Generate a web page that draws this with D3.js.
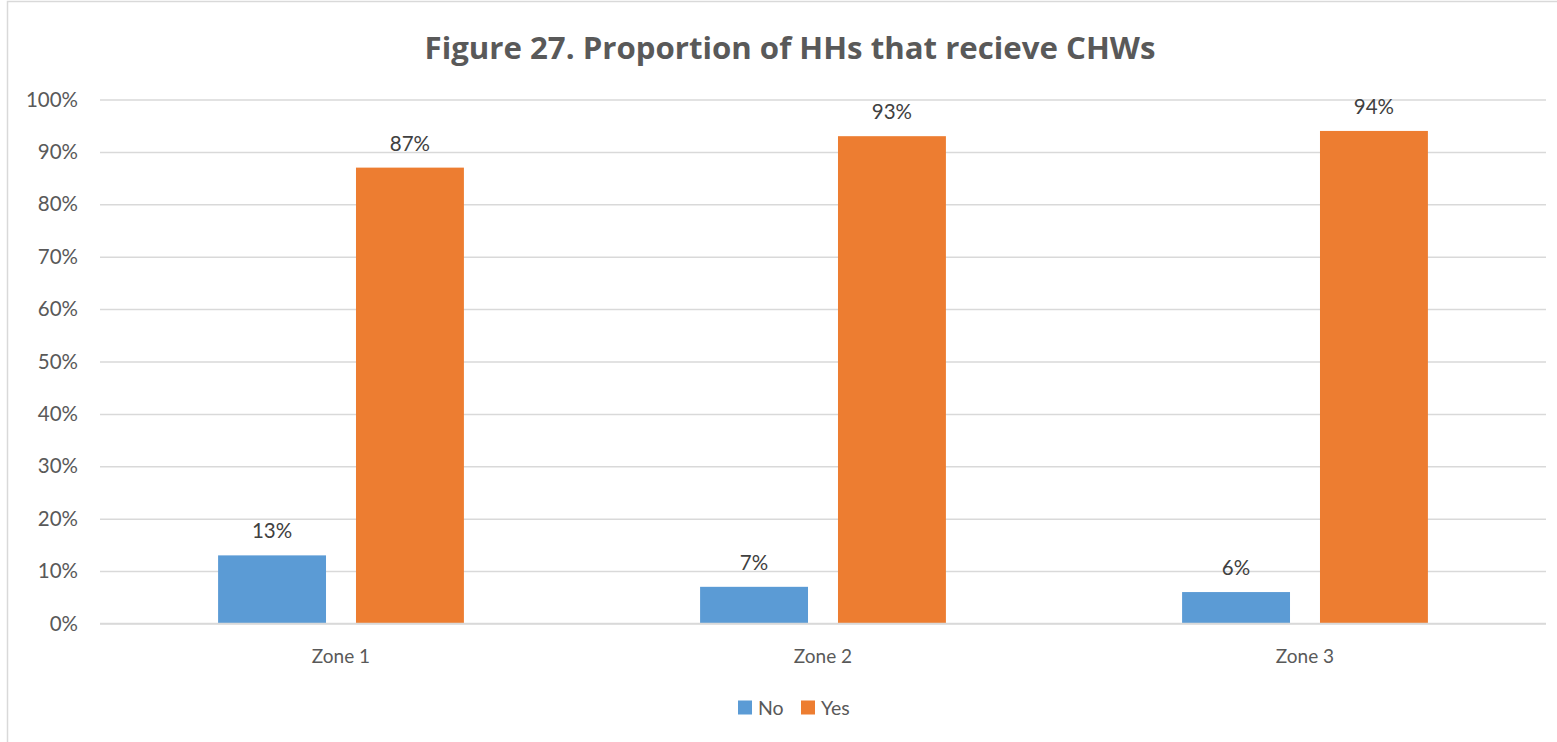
<!DOCTYPE html>
<html><head><meta charset="utf-8">
<script src="https://cdn.jsdelivr.net/npm/d3@7"></script>
<style>body{margin:0;background:#fff}svg{display:block}</style>
</head><body><svg id="c" width="1557" height="742"></svg>
<script>
const categories = ["Zone 1", "Zone 2", "Zone 3"];
const seriesNames = ["No", "Yes"];
const noValues = [13, 7, 6];
const yesValues = [87, 93, 94];
const yTicks = [0, 10, 20, 30, 40, 50, 60, 70, 80, 90, 100];
const colors = {No: "#5b9bd5", Yes: "#ed7d31"};
const title = "Figure 27. Proportion of HHs that recieve CHWs";

(function () {
const svg = d3.select("#c");
const font = "Lato, 'Open Sans', sans-serif";
const pLeft = 100, pRight = 1546, pTop = 99.5, pBottom = 623.5;

svg.append("rect").attr("x", 7.5).attr("y", 1.5).attr("width", 1600).attr("height", 800)
  .attr("fill", "#fff").attr("stroke", "#d9d9d9").attr("stroke-width", 1.5);

const x0 = d3.scaleBand().domain(categories).range([pLeft, pRight]).paddingInner(0.49).paddingOuter(0.245);
const x1 = d3.scaleBand().domain(seriesNames).range([0, x0.bandwidth()]).paddingInner(30/138).paddingOuter(0);
const y = d3.scaleLinear().domain([0, 100]).range([pBottom, pTop]);

const yAxis = d3.axisLeft(y).tickValues(yTicks).tickFormat(d => d + "%").tickSize(-(pRight - pLeft)).tickPadding(22);
const ga = svg.append("g").attr("transform", `translate(${pLeft},0)`).call(yAxis);
ga.select(".domain").remove();
ga.selectAll(".tick line").attr("stroke", "#d9d9d9").attr("stroke-width", 1.5);
ga.selectAll(".tick text").attr("fill", "#595959").style("font-family", font).style("font-size", "20.5px");

const data = categories.map((c, i) => ({cat: c, No: noValues[i], Yes: yesValues[i]}));
const groups = svg.append("g").selectAll("g").data(data).join("g")
  .attr("transform", d => `translate(${x0(d.cat)},0)`);
groups.selectAll("rect").data(d => seriesNames.map(s => ({s, v: d[s]}))).join("rect")
  .attr("x", d => x1(d.s)).attr("width", x1.bandwidth())
  .attr("y", d => y(d.v)).attr("height", d => y(0) - y(d.v))
  .attr("fill", d => colors[d.s]);
groups.selectAll("text").data(d => seriesNames.map(s => ({s, v: d[s]}))).join("text")
  .attr("x", d => x1(d.s) + x1.bandwidth() / 2).attr("y", d => y(d.v) - 17)
  .attr("text-anchor", "middle").attr("fill", "#404040")
  .style("font-family", font).style("font-size", "20.5px").text(d => d.v + "%");

svg.append("line").attr("x1", pLeft).attr("x2", pRight).attr("y1", y(0)).attr("y2", y(0))
  .attr("stroke", "#d9d9d9").attr("stroke-width", 1.5);

const xAxis = d3.axisBottom(x0).tickSize(0).tickPadding(26);
const gx = svg.append("g").attr("transform", `translate(0,${pBottom})`).call(xAxis);
gx.select(".domain").remove();
gx.selectAll(".tick text").attr("fill", "#595959").style("font-family", font).style("font-size", "19px");

svg.append("text").attr("x", 790).attr("y", 59).attr("text-anchor", "middle")
  .attr("fill", "#595959").style("font-family", "'Open Sans', sans-serif").style("font-weight", "bold")
  .style("font-size", "31.2px").text(title);

const legend = svg.append("g");
const lx = [738, 801];
seriesNames.forEach((s, i) => {
  legend.append("rect").attr("x", lx[i]).attr("y", 700.5).attr("width", 14).attr("height", 14).attr("fill", colors[s]);
  legend.append("text").attr("x", lx[i] + 20).attr("y", 714.5).attr("fill", "#595959")
    .style("font-family", font).style("font-size", "19.5px").text(s);
});
})();
</script></body></html>
